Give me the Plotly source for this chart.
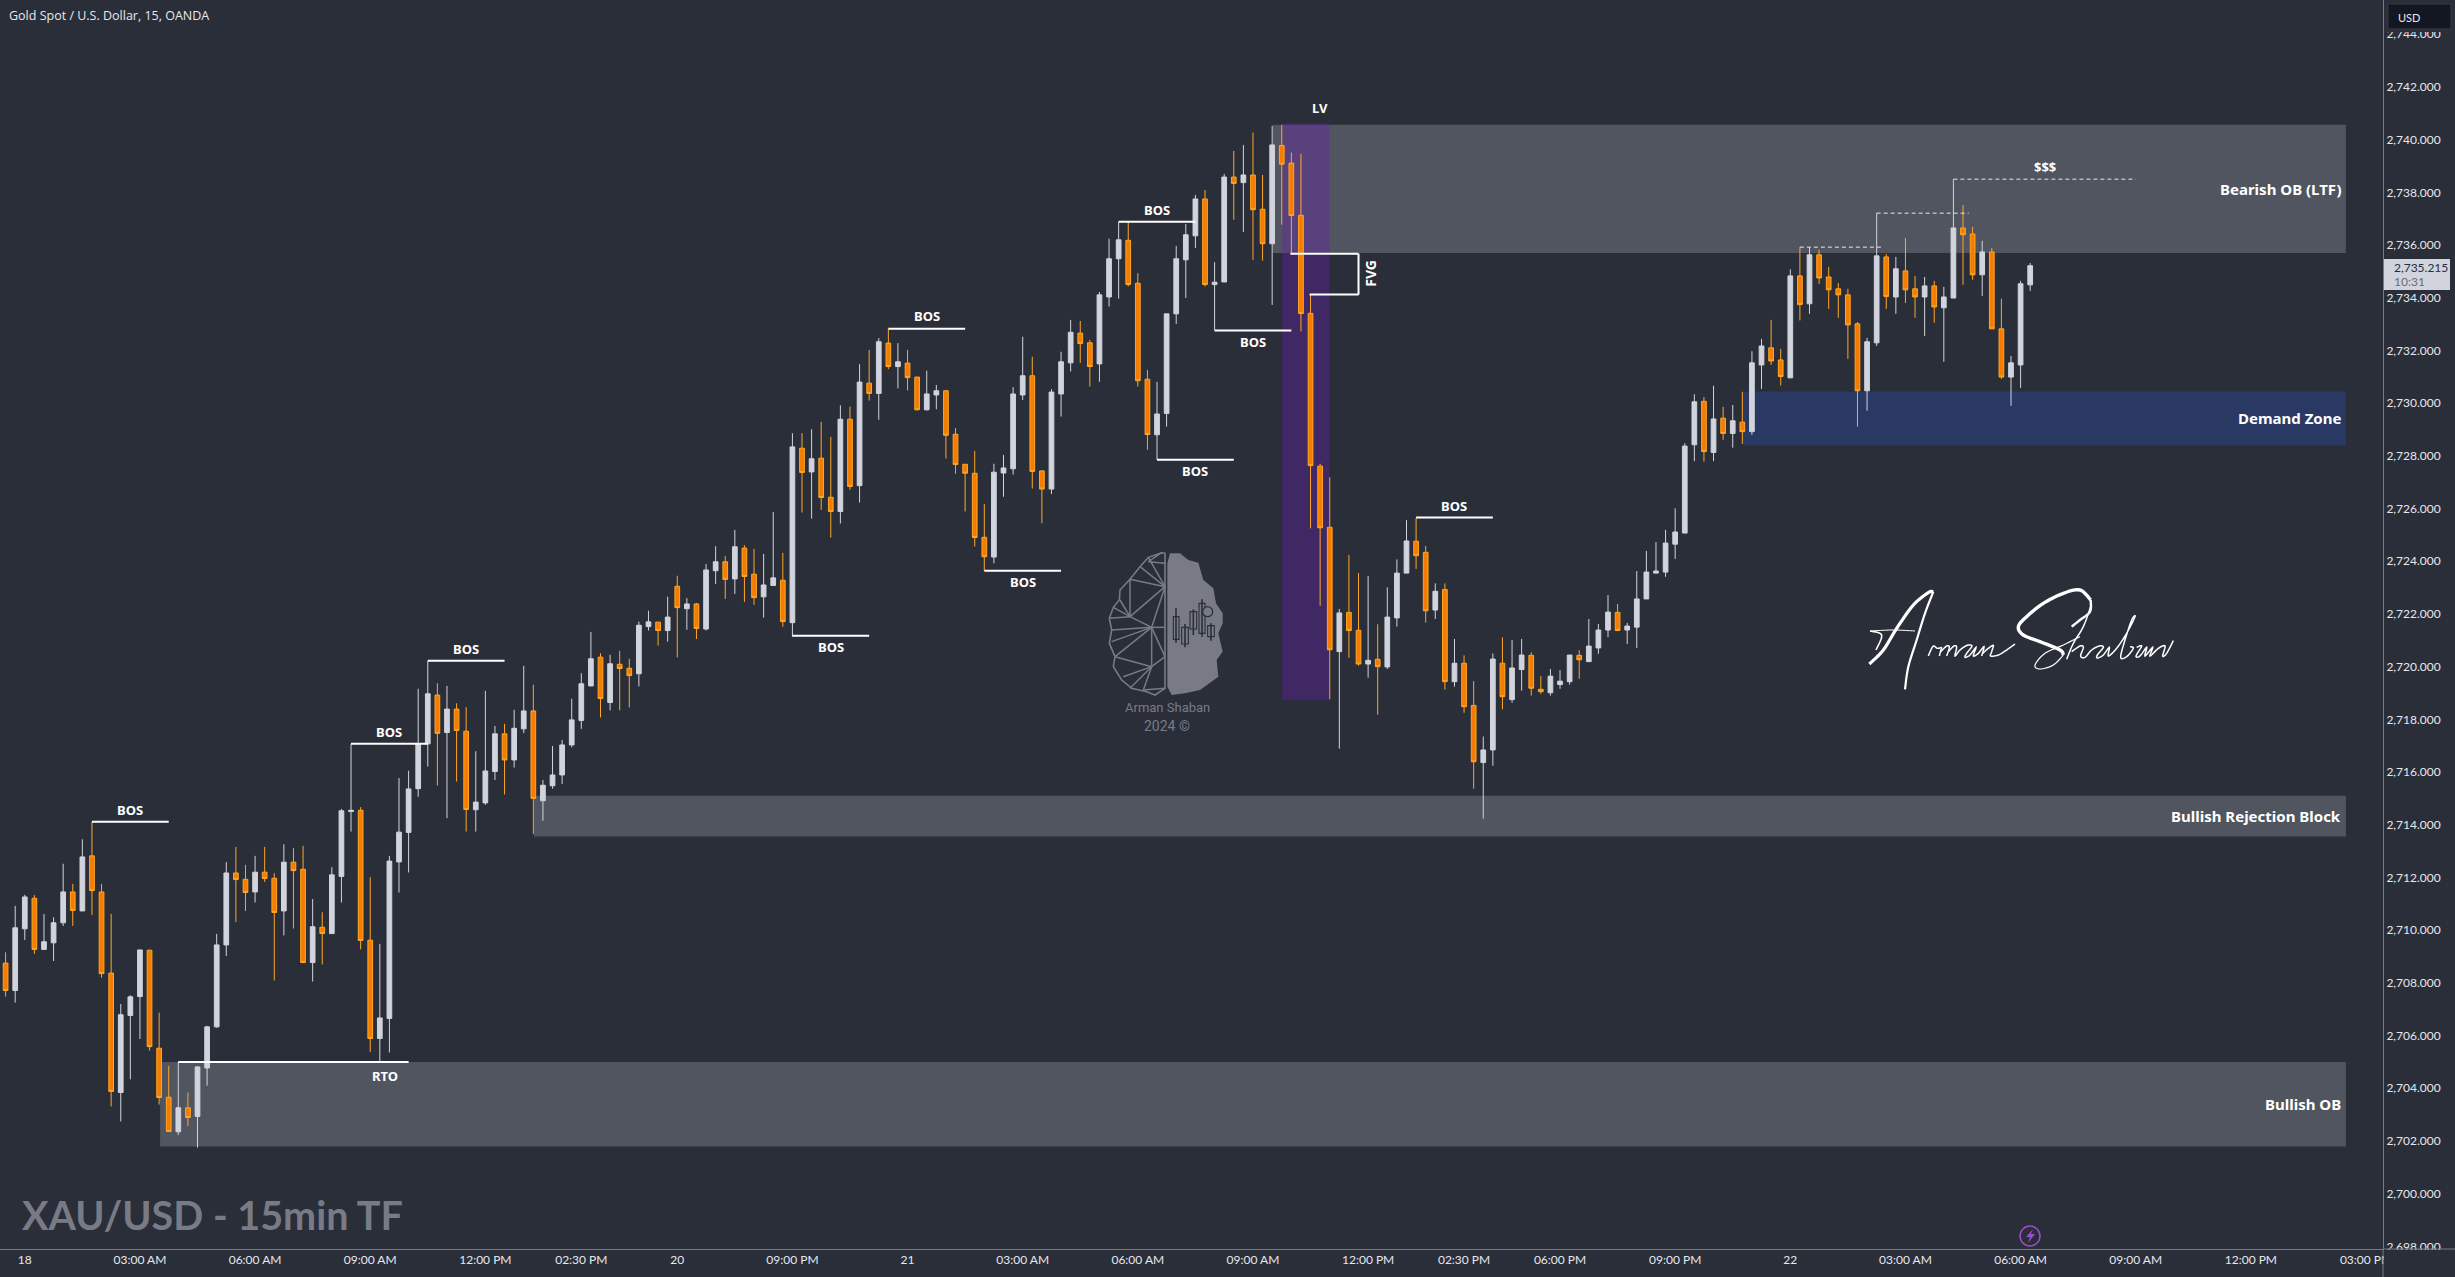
import plotly.graph_objects as go

W, H = 2455, 1277
PLOT_R, PLOT_B = 2383, 1249

BG = "#2a2e39"
UP = "#d1d4dc"
DOWN_FILL = "#f57c00"
DOWN_LINE = "#ffa726"
GRID_LINE = "#787b86"
TEXT = "#e6e8ee"

opens = [
2708.75,2707.71,2710.05,2711.21,2709.27,2709.52,2710.28,2711.45,2710.73,2712.82,
2711.45,2708.37,2703.84,2706.76,2707.48,2709.24,2705.52,2703.66,2702.35,2703.26,
2702.93,2704.77,2706.33,2709.44,2712.17,2711.93,2711.45,2712.20,2711.97,2710.73,
2712.58,2712.31,2708.77,2710.11,2709.87,2712.04,2714.50,2714.55,2709.62,2705.89,
2706.65,2712.59,2713.71,2715.37,2717.07,2718.92,2717.50,2718.39,2717.55,2714.57,
2714.83,2716.02,2717.45,2716.46,2717.64,2718.32,2714.91,2715.48,2715.89,2717.03,
2717.96,2719.27,2720.36,2718.64,2720.09,2719.94,2719.73,2721.52,2721.69,2721.37,
2723.05,2722.20,2722.38,2721.43,2723.64,2723.98,2723.33,2724.50,2723.51,2722.65,
2723.08,2723.28,2721.67,2728.29,2727.39,2727.91,2726.43,2725.89,2729.39,2726.87,
2730.76,2730.37,2732.28,2731.39,2731.52,2730.99,2729.75,2730.31,2730.47,2728.82,
2727.68,2727.34,2724.91,2724.16,2727.35,2727.51,2730.31,2731.04,2727.43,2726.74,
2730.35,2731.53,2732.66,2732.29,2731.49,2734.03,2735.48,2736.18,2734.55,2730.91,
2728.80,2729.61,2733.39,2735.44,2736.35,2737.75,2734.50,2734.60,2738.58,2738.37,
2738.66,2737.36,2736.05,2739.78,2739.11,2737.13,2733.41,2727.61,2725.29,2720.57,
2722.06,2721.38,2720.10,2720.28,2719.99,2721.85,2723.55,2724.76,2724.34,2722.15,
2722.93,2719.43,2720.13,2718.53,2716.36,2716.84,2720.13,2718.75,2719.89,2720.43,
2719.14,2719.01,2719.32,2719.43,2720.43,2720.19,2720.71,2721.39,2722.06,2721.39,
2721.50,2722.57,2723.55,2723.59,2724.65,2725.07,2728.42,2730.07,2728.13,2729.43,
2728.85,2729.28,2728.92,2731.45,2732.10,2731.64,2730.96,2734.83,2733.77,2735.63,
2734.79,2734.34,2734.11,2733.01,2730.47,2732.29,2735.55,2734.03,2735.02,2734.34,
2734.03,2734.45,2733.62,2733.99,2736.65,2736.42,2734.87,2735.74,2732.82,2730.99,
2731.45,2734.49]

highs = [
2709.16,2710.92,2711.34,2711.33,2710.61,2710.49,2712.52,2711.76,2713.45,2714.11,
2711.76,2710.62,2707.20,2707.53,2709.25,2709.25,2706.87,2704.85,2705.00,2703.84,
2704.83,2706.37,2709.86,2712.58,2713.16,2712.48,2712.82,2713.16,2712.16,2713.26,
2713.11,2713.20,2711.18,2710.68,2712.39,2714.60,2717.07,2714.67,2712.01,2709.48,
2712.82,2715.77,2716.05,2719.16,2720.22,2719.37,2719.27,2718.61,2718.46,2716.79,
2719.08,2717.75,2717.83,2718.36,2720.03,2719.31,2715.70,2716.99,2717.22,2718.78,
2719.75,2721.32,2720.51,2720.45,2720.60,2720.30,2721.71,2722.12,2721.70,2722.66,
2723.45,2722.60,2722.42,2723.89,2724.57,2724.20,2725.19,2724.61,2724.47,2724.28,
2725.87,2724.32,2728.86,2728.86,2729.01,2729.29,2728.72,2729.92,2729.87,2731.48,
2732.02,2732.47,2732.82,2732.28,2732.02,2730.99,2731.23,2730.69,2730.50,2729.05,
2727.68,2728.19,2726.17,2727.70,2728.03,2730.61,2732.52,2731.76,2727.44,2730.53,
2731.95,2733.16,2733.12,2732.40,2734.22,2736.24,2736.88,2736.88,2734.93,2731.26,
2730.81,2733.39,2735.97,2736.80,2737.90,2738.09,2735.35,2738.70,2739.57,2739.80,
2740.27,2738.66,2740.52,2740.56,2739.51,2739.46,2734.11,2727.70,2727.19,2722.19,
2724.24,2723.55,2723.44,2721.61,2723.01,2724.07,2725.56,2725.64,2724.58,2723.16,
2723.16,2721.05,2720.43,2719.45,2717.35,2720.50,2721.11,2721.01,2721.05,2720.54,
2719.64,2719.91,2719.87,2720.44,2720.63,2721.81,2721.62,2722.72,2722.38,2721.66,
2723.63,2724.39,2724.73,2725.19,2726.01,2728.48,2730.34,2730.23,2730.66,2729.86,
2729.93,2730.43,2731.97,2732.44,2733.16,2732.06,2735.08,2735.92,2735.92,2735.82,
2735.17,2734.56,2734.34,2733.08,2732.48,2737.21,2735.66,2735.55,2736.27,2734.83,
2734.79,2734.64,2734.41,2738.50,2737.52,2736.69,2736.16,2735.89,2733.96,2731.79,
2734.64,2735.32]

lows = [
2707.48,2707.25,2709.63,2709.10,2709.27,2708.83,2710.16,2710.16,2710.73,2710.58,
2708.20,2703.31,2702.74,2704.34,2705.87,2705.43,2703.38,2702.36,2702.23,2702.57,
2701.75,2704.10,2706.29,2709.02,2710.31,2710.73,2711.05,2711.83,2708.09,2709.80,
2710.06,2708.77,2708.05,2708.70,2709.87,2711.05,2713.74,2709.27,2705.38,2705.00,
2705.36,2711.43,2712.19,2715.06,2716.21,2715.49,2714.25,2715.64,2713.74,2713.74,
2714.76,2715.70,2715.15,2716.17,2717.48,2713.65,2714.15,2715.37,2715.55,2716.94,
2717.64,2719.25,2718.07,2718.34,2718.34,2718.45,2719.25,2721.37,2720.80,2720.95,
2720.35,2721.40,2721.05,2721.37,2723.14,2722.57,2722.76,2722.46,2722.35,2721.86,
2723.08,2721.52,2721.14,2725.85,2725.62,2725.95,2724.90,2725.43,2726.71,2726.23,
2730.10,2729.37,2731.29,2730.56,2730.48,2729.72,2729.72,2729.77,2727.90,2727.32,
2725.89,2724.56,2723.64,2723.92,2726.45,2727.29,2730.12,2726.76,2725.44,2726.55,
2729.49,2731.20,2731.53,2730.63,2730.81,2733.67,2733.97,2734.43,2730.63,2728.23,
2727.85,2729.11,2733.01,2733.99,2735.89,2734.43,2732.76,2734.60,2736.96,2736.50,
2735.44,2735.41,2733.73,2736.77,2735.69,2732.72,2725.25,2722.31,2718.76,2716.89,
2720.34,2720.04,2719.58,2718.18,2719.91,2721.52,2723.55,2723.71,2721.67,2721.81,
2719.13,2719.24,2718.25,2715.37,2714.23,2716.24,2718.38,2718.63,2719.09,2718.90,
2718.97,2718.90,2719.16,2719.32,2719.54,2720.19,2720.49,2721.12,2721.37,2720.86,
2720.71,2722.57,2723.55,2723.41,2724.09,2725.07,2727.80,2727.78,2727.80,2728.61,
2728.31,2728.45,2728.80,2730.54,2731.45,2730.67,2730.96,2733.14,2733.39,2734.53,
2733.58,2733.24,2731.68,2729.10,2729.71,2732.17,2733.58,2733.39,2733.80,2733.24,
2732.55,2733.05,2731.57,2733.99,2734.49,2734.68,2734.07,2732.82,2730.92,2729.90,
2730.58,2734.26]

closes = [
2707.71,2710.09,2711.26,2709.27,2709.56,2710.28,2711.45,2710.75,2712.78,2711.50,
2708.35,2703.88,2706.79,2707.47,2709.25,2705.58,2703.65,2702.36,2703.26,2702.89,
2704.81,2706.33,2709.44,2712.17,2711.92,2711.43,2712.20,2711.96,2710.67,2712.58,
2712.26,2708.77,2710.13,2709.87,2712.10,2714.53,2714.55,2709.61,2705.89,2706.67,
2712.62,2713.72,2715.36,2717.07,2718.97,2717.47,2718.39,2717.58,2714.58,2714.86,
2716.04,2717.45,2716.46,2717.66,2718.32,2715.00,2715.50,2715.89,2717.03,2717.98,
2719.35,2720.30,2718.79,2720.11,2719.93,2719.66,2721.57,2721.70,2721.37,2721.88,
2722.24,2722.38,2721.45,2723.67,2723.98,2723.31,2724.55,2723.42,2722.62,2723.10,
2723.37,2721.71,2728.34,2727.37,2727.89,2726.42,2725.89,2729.39,2726.84,2730.80,
2730.37,2732.33,2731.39,2731.57,2730.97,2729.75,2730.35,2730.47,2728.78,2727.67,
2727.34,2724.90,2724.17,2727.38,2727.54,2730.35,2731.04,2727.41,2726.74,2730.42,
2731.57,2732.69,2732.26,2731.39,2734.11,2735.48,2736.20,2734.50,2730.85,2728.81,
2729.59,2733.39,2735.48,2736.39,2737.75,2734.50,2734.59,2738.58,2738.34,2738.66,
2737.34,2736.05,2739.80,2739.07,2737.12,2733.40,2727.63,2725.27,2720.64,2722.04,
2721.37,2720.10,2720.24,2720.00,2721.88,2723.55,2724.77,2724.21,2722.12,2722.86,
2719.43,2720.13,2718.48,2716.39,2716.84,2720.29,2718.86,2719.95,2720.44,2719.18,
2719.05,2719.64,2719.45,2720.44,2720.26,2720.78,2721.39,2722.07,2721.37,2721.54,
2722.57,2723.59,2723.63,2724.69,2725.11,2728.37,2730.05,2728.16,2729.40,2728.85,
2729.33,2728.92,2731.53,2732.17,2731.60,2731.01,2734.83,2733.74,2735.63,2734.75,
2734.30,2734.11,2732.97,2730.47,2732.33,2735.59,2734.05,2735.10,2734.30,2734.03,
2734.45,2733.65,2734.03,2736.65,2736.39,2734.87,2735.74,2732.82,2730.99,2731.53,
2734.53,2735.215]

candle_index = list(range(len(opens)))

tick_positions = [2,14,26,38,50,60,70,82,94,106,118,130,142,152,162,174,186,198,210,222,234,246]
tick_labels = ["18","03:00 AM","06:00 AM","09:00 AM","12:00 PM","02:30 PM","20","09:00 PM","21",
               "03:00 AM","06:00 AM","09:00 AM","12:00 PM","02:30 PM","06:00 PM","09:00 PM","22",
               "03:00 AM","06:00 AM","09:00 AM","12:00 PM","03:00 PM"]
price_ticks = list(range(2698, 2746, 2))

# zones: name, start index, end index, bottom price, top price
zone_names = ["Bearish OB (LTF)", "Demand Zone", "Bullish Rejection Block", "Bullish OB"]
zone_start = [132.04, 181.07, 55.07, 16.1]
zone_end = [243.9, 243.9, 243.9, 243.9]
zone_low = [2735.70, 2728.39, 2713.55, 2701.79]
zone_high = [2740.57, 2730.44, 2715.10, 2705.00]
zone_label_y = [2738.14, 2729.43, 2714.32, 2703.4]
zone_fill = ["rgba(120,123,134,0.5)", "#2a3963", "rgba(120,123,134,0.5)", "rgba(120,123,134,0.5)"]

# structure lines: start index, end index, price, label, label index, label price
bos_start = [9, 36, 44, 82, 92, 102, 120, 116, 126, 147]
bos_end = [17, 44, 52, 90, 100, 110, 128, 124, 134, 155]
bos_price = [2714.11, 2717.07, 2720.22, 2721.17, 2732.82, 2723.64, 2727.85, 2736.88, 2732.76, 2725.66]
bos_label_price = [2714.57, 2717.52, 2720.68, 2720.74, 2733.29, 2723.20, 2727.43, 2737.34, 2732.31, 2726.10]

rto_start, rto_end, rto_price, rto_label_x, rto_label_y = 18, 42, 2705.0, 39.5, 2704.47

dash_start = [187, 195, 203]
dash_end = [195.5, 204.6, 222]
dash_price = [2735.92, 2737.21, 2738.50]

fvg_x = [133.9, 141.0, 141.0, 135.9]
fvg_y = [2735.67, 2735.67, 2734.12, 2734.12]

lv_x0, lv_x1, lv_low, lv_high = 133.03, 137.97, 2718.73, 2740.6


def px(x):
    return x / PLOT_R


def py(y):
    return 1 - y / PLOT_B


def page_path(points, close=False):
    d = "M " + " L ".join(f"{px(x):.5f} {py(y):.5f}" for x, y in points)
    return d + (" Z" if close else "")


def smooth(points, n=6):
    out = []
    pts = [points[0]] + list(points) + [points[-1]]
    for i in range(1, len(pts) - 2):
        p0, p1, p2, p3 = pts[i - 1], pts[i], pts[i + 1], pts[i + 2]
        for k in range(n):
            t = k / n
            out.append(tuple(
                0.5 * (2 * p1[a] + (p2[a] - p0[a]) * t + (2 * p0[a] - 5 * p1[a] + 4 * p2[a] - p3[a]) * t * t
                       + (3 * p1[a] - p0[a] - 3 * p2[a] + p3[a]) * t ** 3)
                for a in (0, 1)))
    out.append(points[-1])
    return out


shapes = []
annotations = []


def label(x, y, text, size=13, color="#ffffff", anchor="center", bold=True, family="Noto Sans",
          xref="x", yref="y", angle=0, bg=None):
    annotations.append(dict(x=x, y=y, xref=xref, yref=yref, text=f"<b>{text}</b>" if bold else text,
                            showarrow=False, xanchor=anchor, yanchor="middle", textangle=angle,
                            font=dict(size=size, color=color, family=family), bgcolor=bg))


for x0, x1, lo, hi, fill in zip(zone_start, zone_end, zone_low, zone_high, zone_fill):
    shapes.append(dict(type="rect", xref="x", yref="y", x0=x0, x1=x1, y0=lo, y1=hi, fillcolor=fill,
                       line_width=0, layer="below"))
shapes.append(dict(type="rect", xref="x", yref="y", x0=lv_x0, x1=lv_x1, y0=lv_low, y1=lv_high,
                   fillcolor="rgba(102,29,180,0.35)", line_width=0, layer="below"))

for x0, x1, p, lp in zip(bos_start, bos_end, bos_price, bos_label_price):
    shapes.append(dict(type="line", xref="x", yref="y", x0=x0, x1=x1, y0=p, y1=p,
                       line=dict(color="#ffffff", width=2)))
    label((x0 + x1) / 2, lp, "BOS")

shapes.append(dict(type="line", xref="x", yref="y", x0=rto_start, x1=rto_end, y0=rto_price, y1=rto_price,
                   line=dict(color="#ffffff", width=2)))
label(rto_label_x, rto_label_y, "RTO")

for x0, x1, p in zip(dash_start, dash_end, dash_price):
    shapes.append(dict(type="line", xref="x", yref="y", x0=x0, x1=x1, y0=p, y1=p,
                       line=dict(color="#e6e8ee", width=1, dash="4px,3px")))

for i in range(3):
    shapes.append(dict(type="line", xref="x", yref="y", x0=fvg_x[i], x1=fvg_x[i + 1], y0=fvg_y[i], y1=fvg_y[i + 1],
                       line=dict(color="#ffffff", width=2)))

for name, y, in zip(zone_names, zone_label_y):
    label(243.6, y, name, size=15, anchor="right")
label(142.3, 2734.91, "FVG", size=14, angle=-90)
label(137.0, 2741.19, "LV")
label(212.5, 2738.98, "$$$")

# brain logo
def lz(points):
    return [(1060 + x / 3, 520 + y / 3) for x, y in points]


LOGO = "#787b86"
brain_right = [(330,100),(360,100),(385,120),(415,128),(430,180),(460,205),(468,250),(488,280),(488,310),(475,340),
               (488,395),(470,420),(475,470),(420,510),(375,520),(335,525),(322,500),(322,130)]
shapes.append(dict(type="path", xref="paper", yref="paper", path=page_path(lz(brain_right), True),
                   fillcolor=LOGO, line_width=0))
brain_left = [(305,98),(265,112),(240,140),(210,178),(180,210),(178,240),(160,262),(148,295),(155,330),(148,370),
              (165,410),(160,440),(185,480),(215,505),(260,515),(285,525),(315,505),(315,100),(305,98)]
shapes.append(dict(type="path", xref="paper", yref="paper", path=page_path(lz(brain_left), True),
                   line=dict(color=LOGO, width=1.6)))
brain_lines = [((265,112),(315,200)),((240,140),(315,200)),((210,178),(315,200)),((315,200),(210,290)),
               ((210,290),(275,322)),((315,200),(275,322)),((275,322),(315,322)),((275,322),(155,330)),
               ((210,290),(148,295)),((210,290),(160,262)),((180,240),(210,290)),((210,178),(210,290)),
               ((275,322),(165,410)),((155,365),(275,322)),((165,410),(275,440)),((275,322),(275,440)),
               ((275,322),(315,410)),((275,440),(315,410)),((275,440),(190,470)),((275,440),(250,510)),
               ((275,440),(210,505)),((250,510),(315,505)),((305,98),(265,125)),((265,125),(315,130))]
for a, b in brain_lines:
    shapes.append(dict(type="path", xref="paper", yref="paper", path=page_path(lz([a, b])),
                       line=dict(color=LOGO, width=1.5)))
logo_candles = [(340,290,357,358,348,265,368),(365,322,385,372,375,312,382),(390,275,410,327,400,268,345),
                (417,250,435,340,426,238,350),(443,317,463,350,453,310,362)]
for x0, y0, x1, y1, xm, w0, w1 in logo_candles:
    shapes.append(dict(type="path", xref="paper", yref="paper",
                       path=page_path(lz([(x0,y0),(x1,y0),(x1,y1),(x0,y1)]), True),
                       line=dict(color=BG, width=1.1)))
    shapes.append(dict(type="path", xref="paper", yref="paper", path=page_path(lz([(xm,w0),(xm,w1)])),
                       line=dict(color=BG, width=1.6)))
shapes.append(dict(type="circle", xref="paper", yref="paper",
                   x0=px(1060+428/3), x1=px(1060+458/3), y0=py(520+290/3), y1=py(520+260/3),
                   fillcolor=LOGO, line=dict(color=BG, width=1.2)))
label(px(1167), py(707), "Arman Shaban", size=13, color=LOGO, bold=False, family="Roboto",
      xref="paper", yref="paper")
label(px(1167), py(726), "2024 ©", size=14, color=LOGO, bold=False, family="Roboto",
      xref="paper", yref="paper")

# signature
def sz(points):
    return [(1850 + x / 3, 570 + y / 3) for x, y in points]


sig_strokes = [
    ([(58,282),(100,240),(140,175),(190,105),(235,68),(250,65)], 3.2),
    ([(250,65),(225,130),(200,210),(175,290),(165,358)], 2.2),
    ([(60,183),(130,180),(195,183)], 1.0),
    ([(60,183),(95,195),(78,240)], 1.6),
    ([(235,258),(245,235),(252,228),(262,235),(275,232)], 1.5),
    ([(275,232),(268,258)], 1.5),
    ([(272,245),(290,228),(298,232),(290,258)], 1.5),
    ([(295,245),(312,228),(320,232),(315,258),(330,240),(352,226),(366,228),(350,250),(345,262),(360,255),(378,232),
      (370,258),(385,250),(402,230),(395,258)], 1.5),
    ([(398,250),(415,235),(430,226),(425,245),(422,258),(445,255),(470,240),(495,222)], 1.5),
    ([(722,90),(720,125),(690,150),(665,170)], 2.4),
    ([(722,90),(690,60),(640,70),(580,100),(530,140),(505,170),(520,195),(570,215),(630,240),(640,255)], 3.4),
    ([(640,255),(610,285),(570,297),(555,285),(585,250),(640,225),(690,200)], 1.2),
    ([(722,110),(700,170),(670,220),(650,268)], 1.5),
    ([(665,245),(690,228),(700,232),(692,258),(705,262),(725,240),(748,228),(760,232),(742,255),(742,264),(760,255),
      (778,232),(775,258),(800,235),(830,190),(855,140),(845,150),(825,210),(812,262),(830,260),(850,235),(840,230)], 1.5),
    ([(860,232),(875,228),(858,258),(870,258),(890,232),(885,258),(908,232),(900,258),(925,235),(945,228),(938,258),
      (950,250),(970,212)], 1.5),
]
for pts, w in sig_strokes:
    shapes.append(dict(type="path", xref="paper", yref="paper", path=page_path(smooth(sz(pts))),
                       line=dict(color="#ffffff", width=w)))

# lightning badge
shapes.append(dict(type="circle", xref="paper", yref="paper", x0=px(2020), x1=px(2040), y0=py(1246), y1=py(1226),
                   line=dict(color="#9c4dcc", width=1.5), fillcolor="rgba(0,0,0,0)"))
bolt = [(2033,1229),(2026,1237),(2030,1237),(2028,1243),(2035,1234),(2031,1234)]
shapes.append(dict(type="path", xref="paper", yref="paper", path=page_path(bolt, True),
                   fillcolor="#9c4dcc", line_width=0))

# masks of the corners of the price scale, USD box and price tag
shapes.append(dict(type="rect", xref="paper", yref="paper", x0=px(PLOT_R + 1), x1=px(W), y0=py(PLOT_B + 1), y1=py(H),
                   fillcolor=BG, line_width=0))
shapes.append(dict(type="rect", xref="paper", yref="paper", x0=px(PLOT_R + 1), x1=px(W), y0=py(32), y1=py(0),
                   fillcolor=BG, line_width=0))
shapes.append(dict(type="line", xref="paper", yref="paper", x0=px(PLOT_R), x1=px(PLOT_R), y0=py(PLOT_B), y1=py(H),
                   line=dict(color=GRID_LINE, width=1)))
shapes.append(dict(type="line", xref="paper", yref="paper", x0=px(PLOT_R), x1=px(W), y0=py(PLOT_B), y1=py(PLOT_B),
                   line=dict(color=GRID_LINE, width=1)))
shapes.append(dict(type="rect", xref="paper", yref="paper", x0=px(2388), x1=px(2451), y0=py(29), y1=py(4),
                   fillcolor="#131722", line=dict(color="#363a45", width=1)))
shapes.append(dict(type="rect", xref="paper", yref="paper", x0=px(2384), x1=px(2450), y0=py(290), y1=py(259),
                   fillcolor=UP, line_width=0))
label(px(2396), py(17), "USD", size=11, color=TEXT, anchor="left", bold=False, family="Lato", xref="paper", yref="paper")
label(px(2392), py(267), "2,735.215", size=12, color="#2a2e39", anchor="left", bold=False, family="Lato",
      xref="paper", yref="paper")
label(px(2392), py(281), "10:31", size=12, color="#6a6d78", anchor="left", bold=False, family="Lato",
      xref="paper", yref="paper")

label(px(7), py(16), "Gold Spot / U.S. Dollar, 15, OANDA", size=12.5, color=TEXT, anchor="left", bold=False,
      family="Open Sans", xref="paper", yref="paper")
label(px(20), py(1214), "XAU/USD - 15min TF", size=39.5, color=LOGO, anchor="left", bold=True, family="Lato",
      xref="paper", yref="paper")

fig = go.Figure(go.Candlestick(
    x=candle_index, open=opens, high=highs, low=lows, close=closes,
    whiskerwidth=0, hoverinfo="skip", showlegend=False,
    increasing=dict(line=dict(color=UP, width=1), fillcolor=UP),
    decreasing=dict(line=dict(color=DOWN_LINE, width=1), fillcolor=DOWN_FILL),
))

fig.update_layout(
    width=W, height=H, paper_bgcolor=BG, plot_bgcolor=BG, showlegend=False,
    margin=dict(l=0, r=W - PLOT_R, t=0, b=H - PLOT_B),
    shapes=shapes, annotations=annotations,
    xaxis=dict(range=[-0.584, 247.77], tickmode="array", tickvals=tick_positions, ticktext=tick_labels,
               showgrid=False, zeroline=False, showline=True, linecolor=GRID_LINE, linewidth=1, ticks="",
               rangeslider=dict(visible=False), tickfont=dict(family="Lato", size=12, color=TEXT)),
    yaxis=dict(range=[2697.90, 2745.30], side="right", tickmode="array", tickvals=price_ticks,
               ticktext=[f"{v:,.3f}" for v in price_ticks],
               showgrid=False, zeroline=False, showline=True, linecolor=GRID_LINE, linewidth=1, ticks="",
               tickfont=dict(family="Lato", size=12, color=TEXT)),
)

fig.write_html("out.html", config={"displayModeBar": False},
               post_script="document.body.style.margin='0';document.body.style.overflow='hidden';")
